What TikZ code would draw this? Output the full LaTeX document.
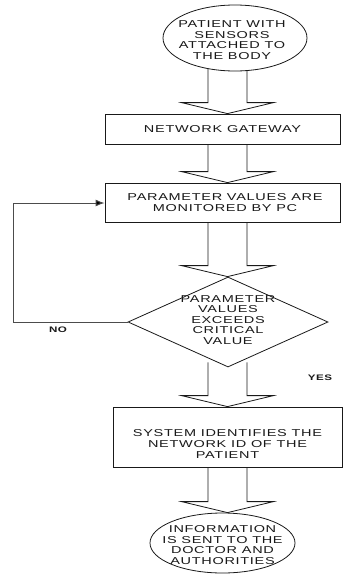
\documentclass[tikz,border=0pt]{standalone}
\usepackage{fontspec}
\setmainfont{Liberation Sans}[FakeStretch=1.45,LetterSpace=7]
\usetikzlibrary{shapes.geometric,calc,backgrounds,arrows.meta}
\begin{document}
\begin{tikzpicture}[x=1pt,y=-1pt,
  shape line/.style={draw=black!90, line width=0.8pt, fill=white},
  boxnode/.style={shape line, rectangle, inner sep=0pt},
  ellnode/.style={shape line, ellipse, inner sep=0pt},
  decnode/.style={shape line, diamond, inner sep=0pt},
  txt/.style={font=\fontsize{10}{10.6}\selectfont, align=center, text=black!90, inner sep=0pt},
  lbl/.style={font=\fontsize{8}{9}\selectfont\bfseries, text=black!90, inner sep=0pt},
  blk/.style={draw=black!90, line width=0.8pt, line join=miter},
  loopline/.style={draw=black!70, line width=1pt, -{Latex[length=9pt,width=7pt,fill=black]}}
]
\useasboundingbox (0,0) rectangle (343,584);

% shapes
\node[ellnode, minimum width=144pt, minimum height=66pt] (e1) at (235,38) {};
\node[txt] (e1t) at (232,40) {PATIENT WITH\\SENSORS\\ATTACHED TO\\THE BODY};

\node[boxnode, minimum width=235pt, minimum height=30pt] (net) at (222.5,129) {};
\node[txt] (nett) at (net) {NETWORK GATEWAY};

\node[boxnode, minimum width=235pt, minimum height=39pt] (par) at (222.5,202.5) {};
\node[txt] (part) at (225,202.5) {PARAMETER VALUES ARE\\MONITORED BY PC};

\node[decnode, minimum width=200pt, minimum height=90pt] (dec) at (228,322) {};
\node[txt] (dect) at (228,320) {PARAMETER\\VALUES\\EXCEEDS\\CRITICAL\\VALUE};

\node[boxnode, minimum width=229pt, minimum height=60pt] (sys) at (227.5,437) {};
\node[txt] (syst) at (227.5,444) {SYSTEM IDENTIFIES THE\\NETWORK ID OF THE\\PATIENT};

\node[ellnode, minimum width=145pt, minimum height=60pt] (e2) at (222.5,543) {};
\node[txt] (e2t) at (222.5,545) {INFORMATION\\IS SENT TO THE\\DOCTOR AND\\AUTHORITIES};

% labels
\node[lbl] (no) at (58,330) {NO};
\node[lbl] (yes) at (320,378) {YES};

% block arrows
\newcommand\blockarr[2]{%
  \draw[blk] let \p1=(#1.south), \p2=(#2.north) in
    (208pt,\y1+5pt) -- (208pt,\y2+11pt) -- (181.5pt,\y2+11pt) -- (227.5pt,\y2)
    -- (273.5pt,\y2+11pt) -- (247pt,\y2+11pt) -- (247pt,\y1+5pt);}
\begin{pgfonlayer}{background}
  \blockarr{e1}{net}
  \blockarr{net}{par}
  \blockarr{par}{dec}
  \blockarr{dec}{sys}
  \blockarr{sys}{e2}
\end{pgfonlayer}

% loop back
\coordinate (lb) at (13,322);
\coordinate (lt) at (13,203);
\draw[loopline] (dec.west) -- (lb) -- (lt) -- (par.west |- lt);
\end{tikzpicture}
\end{document}
